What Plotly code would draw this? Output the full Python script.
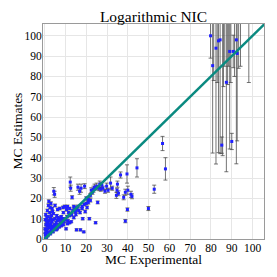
import plotly.graph_objects as go

# ---- data ----
low_x = [0.2, 0.3, 0.4, 0.5, 0.6, 0.8, 1.0, 1.0, 1.2, 1.3, 1.5, 1.6, 1.8, 2.0, 2.0, 2.2, 2.4, 2.5, 2.7, 2.8,
         3.0, 3.0, 3.2, 3.3, 3.5, 3.6, 3.8, 4.0, 4.0, 4.2, 4.4, 4.5, 4.7, 4.8, 5.0, 5.0, 5.2, 5.5, 5.6, 5.8,
         6.0, 6.2, 6.4, 6.5, 6.8, 7.0, 7.2, 7.5, 7.8, 8.0, 8.2, 8.5, 8.8, 9.0, 9.3, 9.6, 10.0, 10.3, 10.8, 11.2,
         11.5, 12.0, 12.3, 12.5, 12.8, 13.2, 13.5, 14.0, 14.3, 14.8, 15.0, 15.3, 15.6, 16.0, 16.4, 16.8, 17.2, 17.5, 18.0, 18.3,
         18.8, 19.2, 19.5, 20.0, 20.4, 21.0, 21.5, 22.0, 22.4, 23.0, 23.5, 24.0, 24.5, 25.0, 25.5, 26.0, 26.5, 27.0, 27.5, 28.0,
         0.5, 1.5, 2.5, 1.0, 2.0, 3.0, 3.5, 4.5, 5.5, 6.0, 7.0, 8.0, 9.0, 11.0, 12.0, 0.3, 0.6, 16.0, 17.0, 15.0,
         14.0, 13.0, 18.0, 19.0, 20.0, 21.0, 22.0, 0.9, 1.8, 2.6, 1.2, 3.8, 10.5, 12.0, 9.0, 11.0]
low_y = [5.0, 9.5, 2.0, 12.0, 7.0, 0.8, 4.0, 10.5, 6.5, 14.0, 8.0, 3.0, 11.0, 5.5, 18.5, 9.0, 13.0, 6.0, 2.5, 10.0,
         7.5, 17.5, 4.5, 11.5, 8.5, 15.0, 6.0, 3.5, 9.5, 12.5, 23.5, 5.0, 7.0, 22.0, 10.0, 16.5, 6.5, 8.0, 4.5, 11.5,
         9.0, 14.5, 7.0, 10.5, 6.0, 9.5, 15.0, 8.0, 10.0, 11.0, 7.5, 9.0, 15.5, 10.0, 8.5, 16.0, 9.5, 5.0, 11.0, 9.0,
         13.0, 11.5, 28.0, 25.0, 8.5, 20.5, 14.0, 10.5, 15.5, 13.5, 14.5, 4.5, 15.0, 25.5, 14.0, 23.5, 4.5, 25.0, 15.0, 10.0,
         3.5, 26.0, 13.5, 20.0, 15.5, 19.5, 10.0, 21.5, 24.0, 23.0, 24.5, 25.5, 8.0, 26.0, 18.0, 25.0, 27.0, 24.5, 26.5, 25.0,
         0.5, 1.5, 3.5, 7.5, 7.0, 6.0, 5.5, 6.0, 5.5, 5.0, 6.0, 6.5, 7.0, 7.5, 8.0, 3.0, 4.5, 16.0, 13.0, 12.0,
         16.0, 12.0, 16.0, 17.0, 17.5, 18.0, 19.0, 9.0, 16.5, 15.5, 5.0, 13.5, 14.5, 15.0, 13.0, 16.0]
low_err = [0.5, 0.5, 0.4, 0.6, 0.5, 0.3, 0.5, 0.6, 0.5, 0.7, 0.5, 0.4, 0.6, 0.5, 0.8, 0.5, 0.6, 0.5, 0.4, 0.6,
           0.5, 0.8, 0.4, 0.6, 0.5, 0.7, 0.5, 0.4, 0.5, 0.6, 1.8, 0.4, 0.5, 1.5, 0.6, 0.7, 0.5, 0.5, 0.4, 0.6,
           0.5, 0.7, 0.5, 0.6, 0.5, 0.5, 0.7, 0.5, 0.6, 0.6, 0.5, 0.5, 0.7, 0.6, 0.5, 0.7, 0.6, 0.5, 0.6, 0.5,
           0.6, 0.6, 2.5, 1.5, 0.5, 0.8, 0.7, 0.6, 0.7, 0.6, 0.7, 0.5, 0.7, 1.5, 0.7, 1.5, 0.5, 2.0, 0.7, 0.6,
           0.4, 1.2, 0.7, 0.8, 0.7, 0.8, 0.6, 0.9, 1.2, 1.0, 1.5, 1.5, 0.5, 1.5, 0.7, 1.2, 1.5, 1.0, 1.2, 1.0,
           0.3, 0.3, 0.4, 0.5, 0.5, 0.5, 0.4, 0.4, 0.4, 0.4, 0.5, 0.5, 0.5, 0.5, 0.5, 0.3, 0.4, 0.7, 0.6, 0.6,
           0.7, 0.6, 0.7, 0.7, 0.7, 0.8, 0.8, 0.5, 0.7, 0.7, 0.4, 0.6, 0.7, 0.7, 0.6, 0.7]

mid_x = [29.0, 29.8, 30.5, 31.7, 32.5, 34.5, 34.8, 35.0, 35.5, 36.5, 38.0, 38.8, 38.8, 39.6, 39.8, 40.0,
         41.5, 42.0, 44.4, 49.9, 52.7, 56.7, 58.1]
mid_y = [23.5, 26.0, 24.0, 27.5, 25.0, 21.5, 24.0, 27.0, 22.5, 31.5, 20.5, 23.0, 8.8, 32.0, 14.5, 24.0,
         22.0, 21.0, 35.0, 15.0, 24.5, 47.0, 34.5]
mid_err = [1.0, 1.5, 1.0, 3.0, 1.0, 1.5, 1.0, 1.5, 1.2, 1.5, 1.2, 1.5, 0.8, 4.5, 0.8, 2.0,
           1.5, 1.2, 4.5, 1.0, 2.0, 3.5, 5.5]

high_x = [79.8, 80.8, 81.3, 82.4, 83.0, 83.6, 84.4, 85.2, 85.6, 86.0, 86.6, 87.4, 88.0, 88.5, 89.0, 89.5,
          90.0, 90.7, 91.3, 92.2, 92.6, 93.3, 94.2, 98.2]
high_y = [100.0, 85.3, 112.0, 93.9, 118.0, 97.5, 98.0, 46.2, 110.0, 120.0, 125.0, 77.1, 118.0, 122.0, 92.3, 115.0,
          48.0, 92.3, 120.0, 98.0, 91.3, 124.0, 120.0, 125.0]
high_err = [11.0, 43.0, 34.0, 57.0, 41.0, 55.0, 56.0, 4.0, 69.0, 45.0, 40.0, 44.0, 42.0, 37.0, 48.0, 38.0,
            4.0, 8.0, 40.0, 61.0, 43.0, 40.0, 35.0, 48.0]

diag = [0, 106]
tick_vals = [0, 10, 20, 30, 40, 50, 60, 70, 80, 90, 100]

all_x = low_x + mid_x + high_x
all_y = low_y + mid_y + high_y
all_err = low_err + mid_err + high_err

FONT = "Liberation Serif, Times New Roman, serif"

fig = go.Figure()
fig.add_trace(go.Scatter(
    x=all_x, y=all_y, mode="markers",
    marker=dict(color="#2020ff", size=3, symbol="square", line=dict(width=0)),
    error_y=dict(type="data", array=all_err, visible=True, color="rgba(70,70,70,0.75)",
                 thickness=1, width=2),
    showlegend=False, hoverinfo="skip",
))
fig.add_trace(go.Scatter(
    x=diag, y=diag, mode="lines",
    line=dict(color="#0a8a80", width=2.5),
    showlegend=False, hoverinfo="skip",
))

axis_common = dict(
    tickvals=tick_vals, showgrid=True, gridcolor="#e6e6e6", gridwidth=1,
    zeroline=False, showline=True, linecolor="#9a9a9a", linewidth=1, mirror=True,
    ticks="", tickfont=dict(family=FONT, size=11.5, color="black"),
)

fig.update_layout(
    width=277, height=277,
    margin=dict(l=43, r=13, t=24, b=38),
    paper_bgcolor="white", plot_bgcolor="white",
    font=dict(family=FONT, color="black"),
    xaxis=dict(range=[-0.8, 105.5], ticklabelstandoff=-2, **axis_common),
    yaxis=dict(range=[0, 105.8], ticklabelstandoff=-2, **axis_common),
    title=dict(text="Logarithmic NIC", xref="paper", x=0.5, xanchor="center", y=1 - 17 / 277,
               yanchor="middle", yref="container", font=dict(family=FONT, size=15.5, color="black")),
    annotations=[
        dict(text="MC Experimental", xref="paper", yref="paper", x=0.5, y=0, yshift=-20.5,
             xanchor="center", yanchor="middle", showarrow=False,
             font=dict(family=FONT, size=13.5, color="black")),
        dict(text="MC Estimates", xref="paper", yref="paper", x=0, y=0.5, xshift=-26,
             xanchor="center", yanchor="middle", textangle=-90, showarrow=False,
             font=dict(family=FONT, size=13.5, color="black")),
    ],
)

fig.write_html("out.html", config={"displayModeBar": False},
               post_script="document.body.style.margin='0px';")
